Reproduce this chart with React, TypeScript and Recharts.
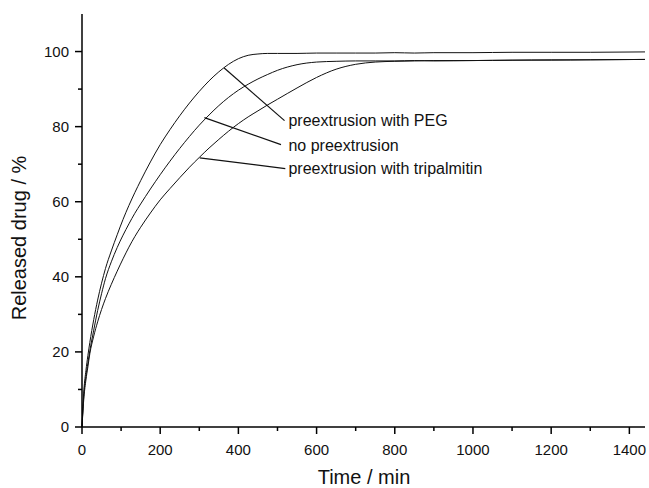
import { LineChart, Line, XAxis, YAxis, ReferenceLine, ReferenceDot } from "recharts";

// release time points (min)
const time = [0, 5, 10, 15, 20, 30, 40, 50, 60, 75, 90, 105, 120, 135, 150, 175, 200, 225, 250, 275, 300, 325, 350, 375, 400, 425, 450, 475, 500, 550, 600, 650, 700, 750, 800, 850, 900, 1000, 1100, 1200, 1300, 1440];

// released drug (%) per formulation
const withPEG = [0, 10, 15, 19, 22.5, 28.6, 33.8, 38.3, 42.2, 46.9, 51.2, 55.3, 59, 62.4, 65.6, 70.6, 75.2, 79.2, 82.9, 86.3, 89.4, 92.2, 94.6, 96.6, 98.1, 99, 99.35, 99.5, 99.5, 99.5, 99.6, 99.6, 99.6, 99.6, 99.7, 99.6, 99.7, 99.7, 99.8, 99.8, 99.8, 99.9];
const noPreextrusion = [0, 9, 13.5, 17, 20.3, 25.8, 31, 35.5, 39.5, 44, 47.8, 51.1, 54.1, 56.9, 59.4, 63.4, 67.2, 70.8, 74.2, 77.4, 80.4, 83.1, 85.6, 87.8, 89.7, 91.3, 92.7, 93.9, 95, 96.5, 97.2, 97.4, 97.5, 97.5, 97.5, 97.6, 97.5, 97.6, 97.7, 97.7, 97.8, 97.9];
const withTripalmitin = [0, 8, 12.5, 16, 19.5, 24.2, 28, 31.3, 34.2, 38, 41.5, 44.8, 47.9, 50.7, 53.2, 57, 60.5, 63.5, 66.4, 69.2, 71.8, 74.3, 76.6, 78.8, 80.8, 82.6, 84.2, 85.8, 87.3, 90.3, 93.1, 95.3, 96.6, 97.2, 97.4, 97.5, 97.6, 97.6, 97.7, 97.8, 97.8, 97.9];

const xTicks = [0, 100, 200, 300, 400, 500, 600, 700, 800, 900, 1000, 1100, 1200, 1300, 1400];
const yTicks = [0, 10, 20, 30, 40, 50, 60, 70, 80, 90, 100];

// annotation labels: leader from curve point to text
const labelNames = ["preextrusion with PEG", "no preextrusion", "preextrusion with tripalmitin"];
const leaderFrom = [
  { x: 363, y: 95.7 },
  { x: 313, y: 82.4 },
  { x: 301, y: 71.7 },
];
const leaderTo = [
  { x: 518, y: 81.6 },
  { x: 509, y: 75.2 },
  { x: 520, y: 68.8 },
];
const labelAt = [
  { x: 528, y: 81.8 },
  { x: 528, y: 75.0 },
  { x: 528, y: 69.0 },
];

const data = time.map((t, i) => ({
  t,
  peg: withPEG[i],
  none: noPreextrusion[i],
  tri: withTripalmitin[i],
}));

const FONT = "'Liberation Sans', Arial, sans-serif";

function XTick(props: any) {
  const { x, y, payload } = props;
  const major = payload.value % 200 === 0;
  return (
    <g>
      <line x1={x} x2={x} y1={y} y2={y + (major ? 7 : 4)} stroke="#000" strokeWidth={1.5} />
      {major && (
        <text x={x} y={y + 28} textAnchor="middle" fontSize={15} fontFamily={FONT} fill="#111">
          {payload.value}
        </text>
      )}
    </g>
  );
}

function YTick(props: any) {
  const { x, y, payload } = props;
  const major = payload.value % 20 === 0;
  return (
    <g>
      <line x1={x - (major ? 7 : 4)} x2={x} y1={y} y2={y} stroke="#000" strokeWidth={1.5} />
      {major && (
        <text x={x - 13} y={y + 5} textAnchor="end" fontSize={15} fontFamily={FONT} fill="#111">
          {payload.value}
        </text>
      )}
    </g>
  );
}

const xTitle = () => (
  <text x={364} y={484} textAnchor="middle" fontSize={20} fontFamily={FONT} fill="#111">
    Time / min
  </text>
);

const yTitle = () => (
  <text transform="translate(26,238) rotate(-90)" textAnchor="middle" fontSize={20} fontFamily={FONT} fill="#111">
    Released drug / %
  </text>
);

export default function App() {
  return (
    <div style={{ position: "absolute", left: 0, top: 0, width: 649, height: 488, background: "#fff" }}>
      <LineChart width={649} height={488} data={data} margin={{ top: 14, right: 4, bottom: 0, left: 0 }}>
        <XAxis
          dataKey="t"
          type="number"
          domain={[0, 1440]}
          ticks={xTicks}
          tick={<XTick />}
          tickLine={false}
          tickSize={0}
          tickMargin={0}
          height={61}
          axisLine={{ stroke: "#000", strokeWidth: 1.5 }}
          label={{ content: xTitle }}
        />
        <XAxis xAxisId="top" orientation="top" dataKey="t" type="number" domain={[0, 1440]} height={0} tick={false} tickLine={false} axisLine={{ stroke: "#000", strokeWidth: 1.5 }} />
        <YAxis
          type="number"
          domain={[0, 110]}
          ticks={yTicks}
          tick={<YTick />}
          tickLine={false}
          tickSize={0}
          tickMargin={0}
          width={82}
          axisLine={{ stroke: "#000", strokeWidth: 1.5 }}
          label={{ content: yTitle }}
        />
        <YAxis yAxisId="right" orientation="right" type="number" domain={[0, 110]} width={0} tick={false} tickLine={false} axisLine={{ stroke: "#000", strokeWidth: 1.5 }} />

        <Line dataKey="peg" type="monotone" stroke="#111" strokeWidth={1} dot={false} isAnimationActive={false} />
        <Line dataKey="none" type="monotone" stroke="#111" strokeWidth={1} dot={false} isAnimationActive={false} />
        <Line dataKey="tri" type="monotone" stroke="#111" strokeWidth={1} dot={false} isAnimationActive={false} />

        {labelNames.map((name, i) => (
          <ReferenceLine
            key={"l" + i}
            segment={[leaderFrom[i], leaderTo[i]]}
            stroke="#111"
            strokeWidth={1.2}
          />
        ))}
        {labelNames.map((name, i) => (
          <ReferenceDot
            key={"d" + i}
            x={labelAt[i].x}
            y={labelAt[i].y}
            r={0}
            fill="none"
            stroke="none"
            label={{ value: name, position: "right", offset: 0, fontSize: 16, fontFamily: FONT, fill: "#111" }}
          />
        ))}
      </LineChart>
    </div>
  );
}
